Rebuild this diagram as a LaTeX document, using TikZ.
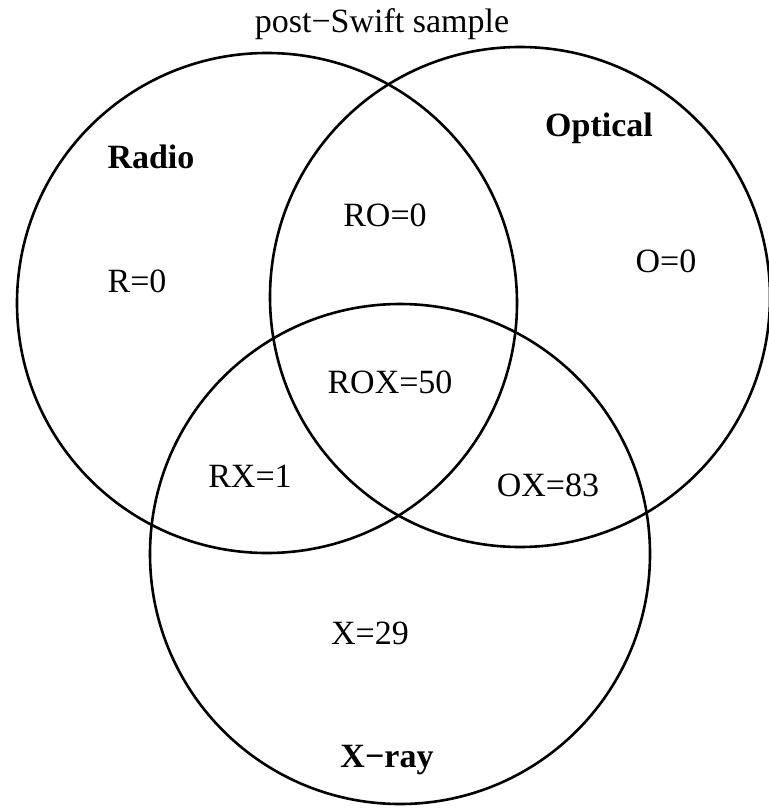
\documentclass[tikz,border=0pt]{standalone}
\usepackage{fontspec}
\setmainfont{Liberation Serif}
\begin{document}
\begin{tikzpicture}[x=1pt,y=-1pt,
  setcirc/.style={draw=black,line width=2.6pt,circle,minimum size=500pt,inner sep=0pt,outer sep=0pt},
  lbl/.style={anchor=base,inner sep=0pt,font=\fontsize{34}{38}\selectfont},
  title/.style={lbl,font=\fontsize{34}{38}\selectfont\bfseries}]
\useasboundingbox (0,0) rectangle (768,808);
\node[setcirc] (radio) at (267,303) {};
\node[setcirc] (optical) at (520,297) {};
\node[setcirc] (xray) at (400,554) {};
\node[lbl] (head) at (382,33) {post−Swift sample};
\node[title] (tradio) at (151,168) {Radio};
\node[title] (toptical) at (599,136) {Optical};
\node[title] (txray) at (387,767) {X−ray};
\node[lbl] (r) at (137,292) {R=0};
\node[lbl] (ro) at (385,226) {RO=0};
\node[lbl] (o) at (666,272) {O=0};
\node[lbl] (rox) at (390,393) {ROX=50};
\node[lbl] (rx) at (250,487) {RX=1};
\node[lbl] (ox) at (548,496) {OX=83};
\node[lbl] (x) at (370,644) {X=29};
\end{tikzpicture}
\end{document}
